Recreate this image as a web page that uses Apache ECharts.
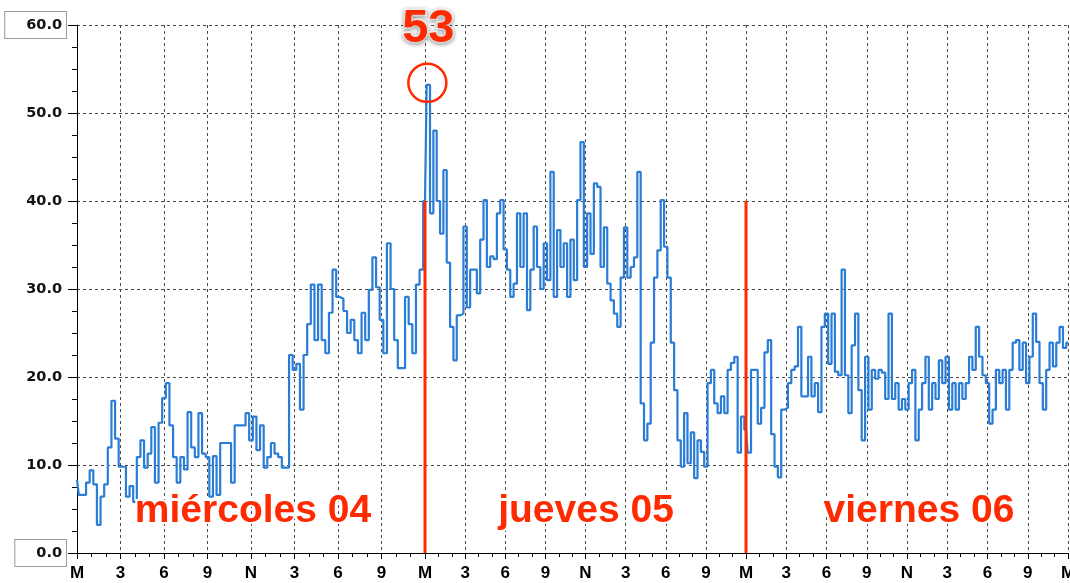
<!DOCTYPE html>
<html><head><meta charset="utf-8">
<script src="https://cdn.jsdelivr.net/npm/echarts@6/dist/echarts.min.js"></script>
<style>html,body{margin:0;padding:0;background:#fff}#c{width:1070px;height:583px}</style>
</head><body><div id="c"></div>
<script>
// ---- data ----
const dayNames = ['miércoles 04', 'jueves 05', 'viernes 06'];
const tickLabels = ['M', '3', '6', '9', 'N', '3', '6', '9', 'M'];
const sampleStepHours = 0.25;           // one reading every 15 minutes
const day1Values = [
  8.3,6.6,6.6,8.0,9.4,7.8,3.2,6.4,7.8,12.0,
  17.3,13.0,9.8,9.8,6.4,7.6,5.8,10.9,12.8,9.7,
  11.3,14.3,8.0,14.8,17.6,19.3,14.5,10.9,8.0,10.9,
  9.5,16.0,12.0,10.9,15.9,11.3,10.9,6.4,11.0,6.6,
  12.5,12.5,12.5,8.0,14.5,14.5,14.5,15.9,12.8,15.5,
  11.7,14.5,9.7,10.9,12.5,11.3,10.9,9.7,9.7,22.5,
  20.8,21.5,16.3,22.5,26.0,30.5,24.2,30.5,24.2,22.7,
  27.3,32.2,29.1,28.9,27.5,25.0,26.5,24.2,22.7,27.3,
  24.2,29.9,33.6,30.2,26.5,22.7,35.2,30.0,24.2,21.0,
  21.0,29.1,26.0,22.7,30.5,32.2
];
const day2Values = [
  40.0,53.2,38.6,48.0,40.0,36.3,43.5,33.0,25.7,21.9,
  27.0,27.2,37.1,27.9,32.2,32.2,29.5,35.6,40.1,32.5,
  33.7,33.4,38.6,40.1,34.5,32.2,29.1,30.6,38.6,32.5,
  38.6,27.6,32.2,37.1,32.5,30.0,35.2,31.0,43.3,29.1,
  36.7,32.5,35.2,29.1,35.6,31.0,40.1,46.7,32.5,38.6,
  34.0,42.0,41.6,32.5,37.0,30.6,28.7,27.2,25.7,31.3,
  37.0,31.3,32.5,33.6,43.3,17.0,12.8,14.7,23.9,31.3,
  34.4,40.1,34.8,31.3,23.9,18.5,12.8,9.8,15.9,10.2,
  13.7,8.5,12.8,11.5,9.8,19.3,20.8,17.0,15.9,17.8,
  15.9,20.8,21.6,22.3,11.4,15.5
];
const day3Values = [
  14.0,11.4,20.8,20.8,14.7,16.5,22.8,24.2,13.5,9.8,
  8.6,16.3,16.5,19.3,20.8,21.2,25.7,17.8,17.8,22.3,
  17.8,19.3,16.0,25.7,27.2,21.5,27.2,20.6,20.2,32.2,
  20.2,15.9,23.6,27.2,18.5,12.8,22.3,16.3,20.8,19.8,
  20.8,20.5,17.5,27.2,17.5,19.3,16.3,17.5,16.3,19.3,
  20.8,12.8,16.3,19.3,22.3,16.3,19.3,17.5,21.9,19.3,
  22.3,16.3,19.3,16.3,19.3,17.5,19.3,22.3,20.8,25.7,
  22.3,20.2,19.3,14.7,16.3,20.8,19.3,20.8,16.3,20.8,
  23.9,24.2,20.8,23.9,19.3,22.3,27.2,24.0,19.3,16.3,
  20.8,23.9,21.2,23.9,25.7,23.3,23.9
];
const peakLabel = 53;
const dayMarkerTop = 40;

// ---- build ----
const days = [day1Values, day2Values, day3Values];
const seriesData = days.map((vals, d) => {
  const pts = vals.map((v, i) => [i * sampleStepHours, v]);
  if (d < days.length - 1) pts.push([24, days[d + 1][0]]);
  return pts;
});
let peakIdx = 0;
day2Values.forEach((v, i) => { if (v > day2Values[peakIdx]) peakIdx = i; });

const RED = '#ff2a00', BLUE = '#2a7dd6';
const gridBoxes = [
  {left: 77, top: 25, width: 348, height: 528, outerBoundsMode: 'none', containLabel: false},
  {left: 425, top: 25, width: 321, height: 528, outerBoundsMode: 'none', containLabel: false},
  {left: 746, top: 25, width: 322, height: 528, outerBoundsMode: 'none', containLabel: false}
];
const dash = {color: '#4a4a4a', width: 1, type: [3, 3]};
const xAxes = gridBoxes.map((g, i) => ({
  gridIndex: i, type: 'value', min: 0, max: 24, interval: 3,
  axisLine: {show: true, onZero: false, lineStyle: {color: '#000', width: 1}},
  axisTick: {show: true, length: 6, lineStyle: {color: '#000'}},
  minorTick: {show: true, splitNumber: 3, length: 4, lineStyle: {color: '#000'}},
  axisLabel: {
    formatter: v => tickLabels[Math.round(v / 3)],
    showMinLabel: true, showMaxLabel: i === 2, hideOverlap: false,
    fontFamily: 'Liberation Sans', fontWeight: 'bold', fontSize: 17, color: '#000', margin: 12
  },
  splitLine: {show: true, lineStyle: dash}
}));
const yAxes = gridBoxes.map((g, i) => ({
  gridIndex: i, type: 'value', min: 0, max: 60, interval: 10,
  axisLine: {show: i === 0, lineStyle: {color: '#000', width: 1}},
  axisTick: {show: i === 0, length: 9, lineStyle: {color: '#000'}},
  minorTick: {show: i === 0, splitNumber: 4, length: 5, lineStyle: {color: '#000'}},
  axisLabel: i === 0 ? {
    margin: 11,
    formatter: v => (v === 0 || v === 60) ? '{box|' + v.toFixed(1) + '}' : '{plain|' + v.toFixed(1) + '}',
    rich: {
      box: {fontFamily: 'DejaVu Sans', fontWeight: 'bold', fontSize: 14.5, color: '#111',
            backgroundColor: '#fff', borderColor: '#9a9a9a', borderWidth: 1, padding: [6, 4, 5, 21]},
      plain: {fontFamily: 'DejaVu Sans', fontWeight: 'bold', fontSize: 14.5, color: '#111', padding: [6, 4, 5, 21]}
    }
  } : {show: false},
  splitLine: {show: true, lineStyle: dash}
}));

const series = seriesData.map((data, i) => {
  const s = {
    type: 'line', xAxisIndex: i, yAxisIndex: i, data, showSymbol: false, step: 'middle',
    lineStyle: {color: BLUE, width: 2.2}, itemStyle: {color: BLUE}, z: 2, silent: true
  };
  if (i === 1) {
    s.markPoint = {
      silent: true,
      data: [{
        coord: [peakIdx * sampleStepHours, day2Values[peakIdx]],
        symbol: 'circle', symbolSize: 38, symbolOffset: [-1, -2],
        itemStyle: {color: 'rgba(0,0,0,0)', borderColor: RED, borderWidth: 2.5},
        label: {
          show: true, position: 'inside', offset: [1, -54], formatter: String(peakLabel),
          fontFamily: 'Liberation Sans', fontWeight: 'bold', fontSize: 47, color: RED,
          textBorderColor: '#fff', textBorderWidth: 3,
          textShadowColor: 'rgba(0,0,0,0.35)', textShadowBlur: 4, textShadowOffsetY: 1
        }
      }]
    };
  }
  return s;
});
[1, 2].forEach(i => series.push({
  type: 'line', xAxisIndex: i, yAxisIndex: i, data: [[0, dayMarkerTop], [0, 0]],
  showSymbol: false, clip: false, silent: true,
  lineStyle: {color: RED, width: 3}, z: 4
}));

const dayLabelPos = [[253, 511], [586, 511], [919, 511]];
const graphic = dayNames.map((name, i) => ({
  type: 'text', x: dayLabelPos[i][0], y: dayLabelPos[i][1], z: 10,
  style: {
    text: name, fill: RED, font: 'bold 39px "Liberation Sans"',
    textAlign: 'center', textVerticalAlign: 'middle', verticalAlign: 'middle',
    stroke: '#fff', lineWidth: 4, strokeFirst: true,
    shadowColor: 'rgba(0,0,0,0.35)', shadowBlur: 4, shadowOffsetY: 1
  }
}));

const chart = echarts.init(document.getElementById('c'), null, {renderer: 'canvas'});
chart.setOption({
  animation: false,
  backgroundColor: '#fff',
  grid: gridBoxes,
  xAxis: xAxes,
  yAxis: yAxes,
  series,
  graphic
});
</script></body></html>
